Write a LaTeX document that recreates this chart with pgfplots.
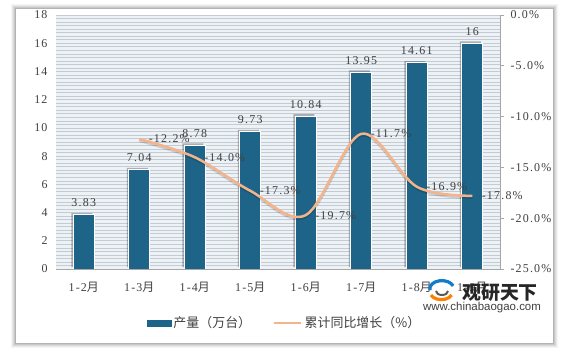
\documentclass[border=0pt]{standalone}
\usepackage{pgfplots}
\pgfplotsset{compat=1.18}
\usepackage{pgfplotstable}
\usepackage{fontspec}
\setmainfont{Liberation Serif}[LetterSpace=10]
\newfontfamily\cjk{Noto Sans CJK SC}
\newfontfamily\sans{Liberation Sans}
\definecolor{barblue}{HTML}{1D6488}
\definecolor{lineor}{HTML}{F5B38A}
\definecolor{bgc}{HTML}{EDF2F7}
\definecolor{gridc}{HTML}{C5CBD3}
\definecolor{txt}{HTML}{404040}
\definecolor{axc}{HTML}{A6A6A6}
\pgfplotstableread{
x y
0 3.83
1 7.04
2 8.78
3 9.73
4 10.84
5 13.95
6 14.61
7 16
}\prodtab
\pgfplotstableread{
x y
1 -12.2
2 -14.0
3 -17.3
4 -19.7
5 -11.7
6 -16.9
7 -17.8
}\growtab
\begin{document}
\begin{tikzpicture}
\begin{scope}[x=1bp,y=1bp,shift={(-56bp,-83bp)}]
\useasboundingbox (0,0) rectangle (570,352);
\fill[white] (0,0) rectangle (570,352);
\foreach \i/\o in {5/0.04,4/0.05,3/0.06,2/0.08,1/0.10} {\fill[black,opacity=\o] (16-\i,9-\i) rectangle (553+\i,343+\i);}
\fill[white] (16,9) rectangle (553,343);
\end{scope}
\begin{axis}[
  scale only axis, width=444bp, height=254bp,
  xmin=-0.5, xmax=7.5, ymin=0, ymax=18,
  xtick={0,...,7},
  xticklabels={1-2{\cjk 月},1-3{\cjk 月},1-4{\cjk 月},1-5{\cjk 月},1-6{\cjk 月},1-7{\cjk 月},1-8{\cjk 月},1-9{\cjk 月}},
  ytick={0,2,...,18}, minor ytick={0,0.25,...,18},
  ymajorgrids, yminorgrids,
  major grid style={gridc, line width=0.6bp}, minor grid style={gridc, line width=0.6bp},
  axis background/.style={fill=bgc},
  axis line style={draw=none},
  after end axis/.code={\draw[axc, line width=0.9bp] (rel axis cs:0,0) -- (rel axis cs:1,0);},
  tick style={draw=none}, major tick length=0pt, minor tick length=0pt,
  ticklabel style={font=\fontsize{12}{12}\selectfont, text=txt},
  yticklabel style={xshift=-5bp},
  xticklabel style={yshift=-10bp},
  /pgf/number format/assume math mode=true,
  clip=false,
]
\addplot[ybar, bar width=21bp, bar shift=-1.8bp, fill=black, draw=none, opacity=0.28, yshift=1.8bp, forget plot] table[x=x,y=y]{\prodtab};
\addplot[ybar, bar width=21bp, bar shift=0bp, fill=barblue, draw=white, line width=1bp,
  nodes near coords, point meta=y,
  nodes near coords style={font=\fontsize{12}{12}\selectfont, text=txt, yshift=4bp, opacity=1}] table[x=x,y=y]{\prodtab};
\end{axis}
\begin{axis}[
  scale only axis, width=444bp, height=254bp,
  xmin=-0.5, xmax=7.5, ymin=-25, ymax=0, ytick={-25,-20,...,0},
  axis y line*=right, axis x line=none,
  y axis line style={axc, line width=0.9bp},
  ytick style={axc, line width=0.9bp}, tick align=outside, major tick length=4bp,
  yticklabel={\pgfmathprintnumber[fixed,fixed zerofill,precision=1]{\tick}\%},
  yticklabel style={font=\fontsize{12}{12}\selectfont, text=txt, xshift=3bp},
  /pgf/number format/assume math mode=true,
  clip=false,
  legend style={at={(0.515,-0.213)}, anchor=center, draw=none, fill=none,
    font=\cjk\fontsize{13}{13}\selectfont, text=txt,
    /tikz/every even column/.append style={column sep=20bp}},
  legend columns=2,
]
\addlegendimage{legend image code/.code={\fill[barblue] (0bp,-3bp) rectangle (24bp,3bp);}}
\addlegendentry{产量（万台）}
\addplot[smooth, tension=0.55, black, opacity=0.15, line width=3bp, yshift=-1.5bp, forget plot] table[x=x,y=y]{\growtab};
\addplot[smooth, tension=0.55, lineor, line width=2.5bp,
  legend image code/.code={\draw[lineor, line width=2.5bp] (0bp,0bp) -- (27bp,0bp);},
  nodes near coords={\pgfmathprintnumber[fixed,fixed zerofill,precision=1]{\pgfplotspointmeta}\%}, point meta=y,
  nodes near coords style={anchor=west, xshift=5bp, font=\fontsize{12}{12}\selectfont, text=txt}] table[x=x,y=y]{\growtab};
\addlegendentry{累计同比增长（\%）}
\end{axis}
\begin{scope}[x=1bp,y=1bp,shift={(-56bp,-83bp)}]
\draw[line width=3.2bp, cyan!60!blue] (430,62) arc[start angle=190, end angle=20, x radius=12bp, y radius=8bp];
\draw[line width=3.2bp, orange] (431,57) arc[start angle=200, end angle=340, x radius=11bp, y radius=7bp];
\draw[line width=2bp, gray!70!black] (436,61) arc[start angle=180, end angle=360, x radius=6bp, y radius=4bp];
\node[font=\cjk\bfseries\fontsize{19}{19}\selectfont, text=black!85] at (500,59) {观研天下};
\node[font=\sans\fontsize{11.5}{12}\selectfont, text=black!75] at (482,44) {www.chinabaogao.com};
\end{scope}
\end{tikzpicture}
\end{document}
